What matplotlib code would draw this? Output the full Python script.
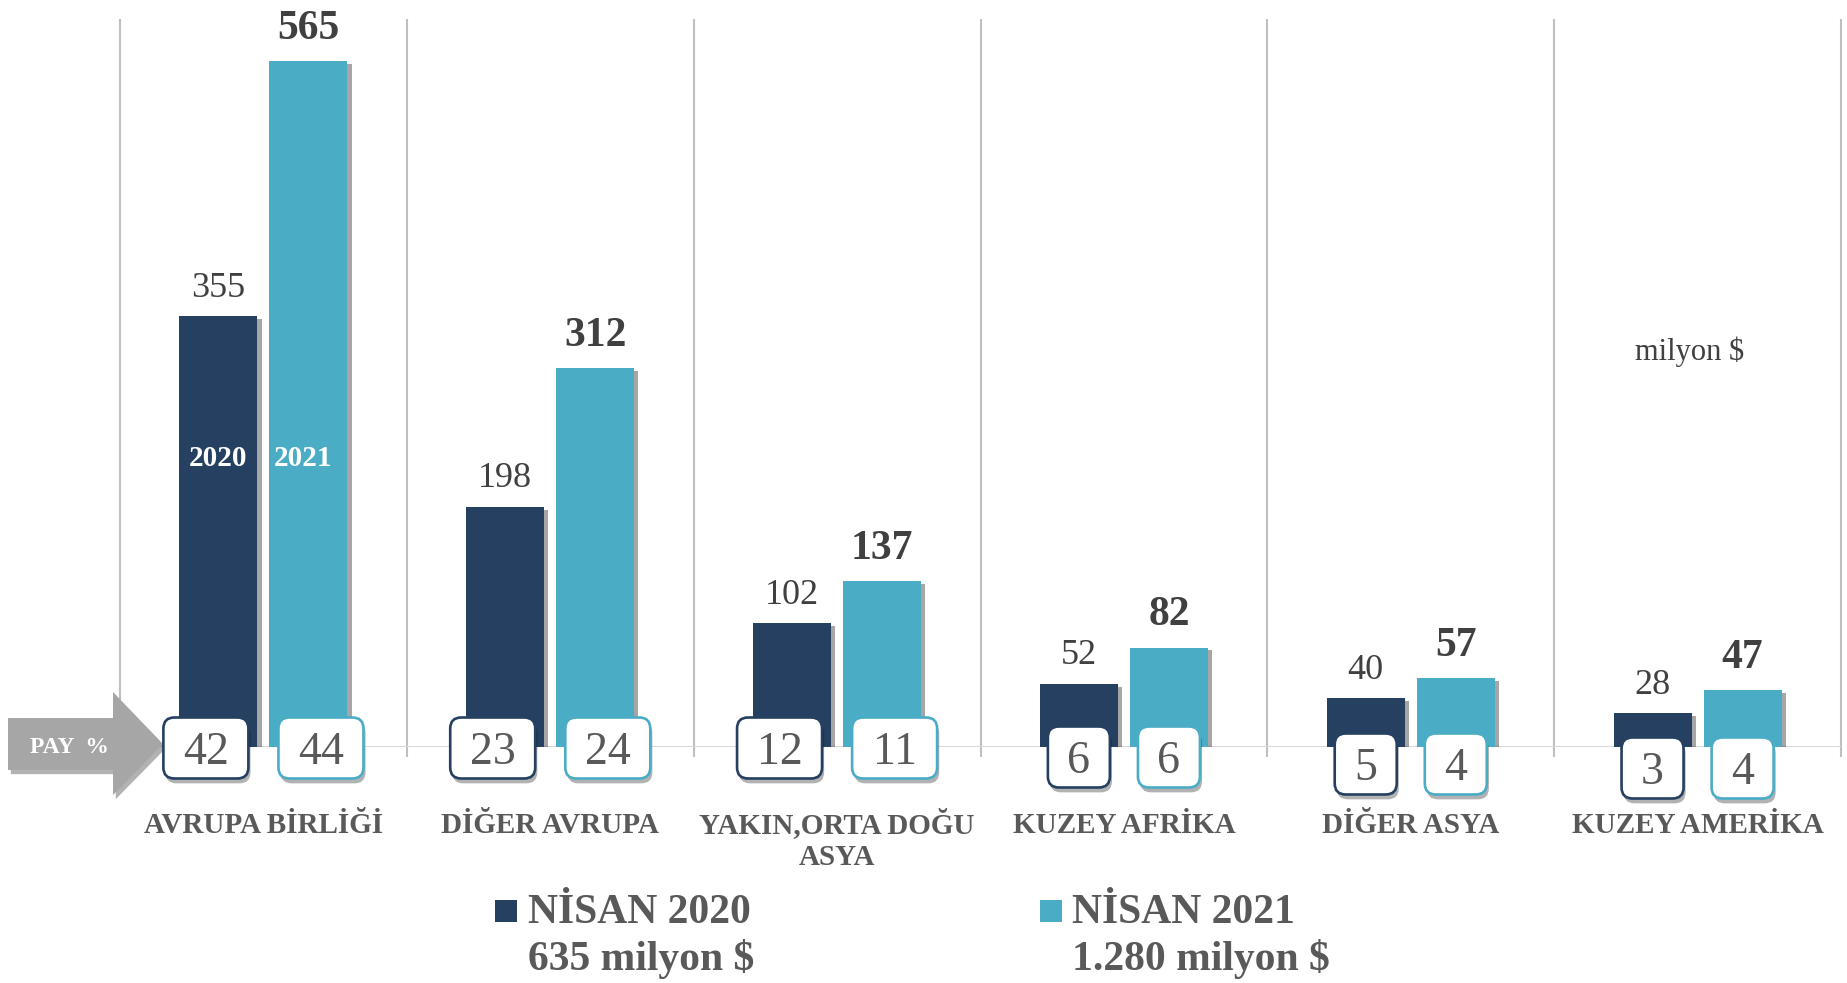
import matplotlib
matplotlib.use('Agg')
import matplotlib.pyplot as plt
import numpy as np
from matplotlib.patches import FancyBboxPatch, Polygon, Rectangle
from matplotlib.transforms import IdentityTransform, blended_transform_factory
import matplotlib.patheffects as pe

# ---------------- data ----------------
categories = ['AVRUPA BİRLİĞİ', 'DİĞER AVRUPA', 'YAKIN,ORTA DOĞU\nASYA',
              'KUZEY AFRİKA', 'DİĞER ASYA', 'KUZEY AMERİKA']
values_2020 = [355, 198, 102, 52, 40, 28]
values_2021 = [565, 312, 137, 82, 57, 47]
share_2020 = [42, 23, 12, 6, 5, 3]
share_2021 = [44, 24, 11, 6, 4, 4]
series_names = ['NİSAN 2020', 'NİSAN 2021']
series_totals = ['635 milyon $', '1.280 milyon $']
bar_year_labels = ['2020', '2021']
unit_label = 'milyon $'
pay_label = 'PAY  %'

# ---------------- style / layout ----------------
W, H = 1847, 983
NAVY = '#254061'
TEAL = '#4BACC6'
GREY_TXT = '#595959'
DARK_TXT = '#404040'
SERIF = ['Liberation Serif', 'DejaVu Serif']
box_drop_px = [1, 1, 1, 10, 17, 21]   # box centre below baseline (layout)

fig = plt.figure(figsize=(W / 100, H / 100), dpi=100)
ax = fig.add_axes([120 / W, 1 - 747 / H, 1721 / W, 728 / H])
ax.set_xlim(-0.5, 5.5)
ax.set_ylim(0, 600)
ax.axis('off')

ident = IdentityTransform()
def D(y_img):
    return H - y_img

x = np.arange(len(categories))
bw = 0.272
off = 0.157

shadow = [pe.SimplePatchShadow(offset=(3, -2), shadow_rgbFace='#000000', alpha=0.35), pe.Normal()]

# separators and baseline
ax.vlines(np.arange(-0.5, len(categories), 1.0), -8, 600, colors='#bfbfbf', lw=1.5,
          clip_on=False, zorder=1)
ax.axhline(0, color='#d9d9d9', lw=2.2, zorder=1)

b1 = ax.bar(x - off, values_2020, width=bw, color=NAVY, zorder=2)
b2 = ax.bar(x + off, values_2021, width=bw, color=TEAL, zorder=2)
for r in list(b1) + list(b2):
    r.set_path_effects(shadow)

# value labels
for i in range(len(categories)):
    ax.annotate(str(values_2020[i]), (x[i] - off, values_2020[i]), xytext=(0, 14),
                textcoords='offset points', ha='center', va='baseline',
                fontsize=26, family=SERIF, color=DARK_TXT, zorder=5)
    ax.annotate(str(values_2021[i]), (x[i] + off, values_2021[i]), xytext=(0, 16),
                textcoords='offset points', ha='center', va='baseline',
                fontsize=30, fontweight='bold', family=SERIF, color=DARK_TXT, zorder=5)

# year labels inside first bars
ax.text(x[0] - off, 232, bar_year_labels[0], ha='center', va='baseline', fontsize=21,
        fontweight='bold', family=SERIF, color='white', zorder=6)
ax.text(x[0] + off - 0.02, 232, bar_year_labels[1], ha='center', va='baseline', fontsize=21,
        fontweight='bold', family=SERIF, color='white', zorder=6)

fig.canvas.draw()
base_disp = ax.transData.transform((0, 0))[1]

box_shadow = [pe.SimplePatchShadow(offset=(1.5, -3.5), shadow_rgbFace='#000000', alpha=0.3), pe.Normal()]

def share_box(xc_data, val, outward):
    xc = ax.transData.transform((xc_data, 0))[0]
    two = len(str(val)) > 1
    w = 85 if two else 62
    h = 61
    if two:
        xc += 12.5 * outward
    return xc, w, h

for i in range(len(categories)):
    for xd, val, col, sgn in [(x[i] - off, share_2020[i], NAVY, -1),
                              (x[i] + off, share_2021[i], TEAL, 1)]:
        xc, w, h = share_box(xd, val, sgn)
        yc = base_disp - box_drop_px[i]
        p = FancyBboxPatch((xc - w / 2, yc - h / 2), w, h,
                           boxstyle='round,pad=0,rounding_size=11',
                           transform=ident, fc='white', ec=col, lw=1.9, zorder=7)
        p.set_path_effects(box_shadow)
        fig.add_artist(p)
        fig.text(xc, yc - 16, str(val), transform=ident, ha='center', va='baseline',
                 fontsize=33, family=SERIF, color=GREY_TXT, zorder=8)

# category labels (one text per line, 32 px line pitch)
bt = blended_transform_factory(ax.transData, ident)
for i, c in enumerate(categories):
    for k, line in enumerate(c.split('\n')):
        ax.text(x[i], D(833 + 32 * k), line, transform=bt, ha='center', va='baseline',
                fontsize=21, fontweight='bold', family=SERIF, color=GREY_TXT,
                clip_on=False)

# unit label
fig.text(1690, D(360), unit_label, transform=ident, ha='center', va='baseline',
         fontsize=22, family=SERIF, color=DARK_TXT)

# PAY % arrow
arrow_pts = [(8, 718), (113, 718), (113, 692), (163, 744), (113, 795), (113, 770), (8, 770)]
arrow = Polygon([(px, D(py)) for px, py in arrow_pts], closed=True, transform=ident,
                fc='#a6a6a6', ec='none', zorder=6)
arrow.set_path_effects([pe.SimplePatchShadow(offset=(2, -3), shadow_rgbFace='#000000', alpha=0.3),
                        pe.Normal()])
fig.add_artist(arrow)
fig.text(70, D(753), pay_label, transform=ident, ha='center', va='baseline', fontsize=17,
         fontweight='bold', family=SERIF, color='white', zorder=7)

# legend
for (sx, tx), col, name, tot in zip([(495, 528), (1040, 1072)], [NAVY, TEAL],
                                    series_names, series_totals):
    fig.add_artist(Rectangle((sx, D(922)), 22, 22, transform=ident, fc=col, ec='none'))
    fig.text(tx, D(923), name, transform=ident, ha='left', va='baseline', fontsize=30,
             fontweight='bold', family=SERIF, color=GREY_TXT)
    fig.text(tx, D(970), tot, transform=ident, ha='left', va='baseline', fontsize=30,
             fontweight='bold', family=SERIF, color=GREY_TXT)

fig.savefig('out.png', dpi=100)
